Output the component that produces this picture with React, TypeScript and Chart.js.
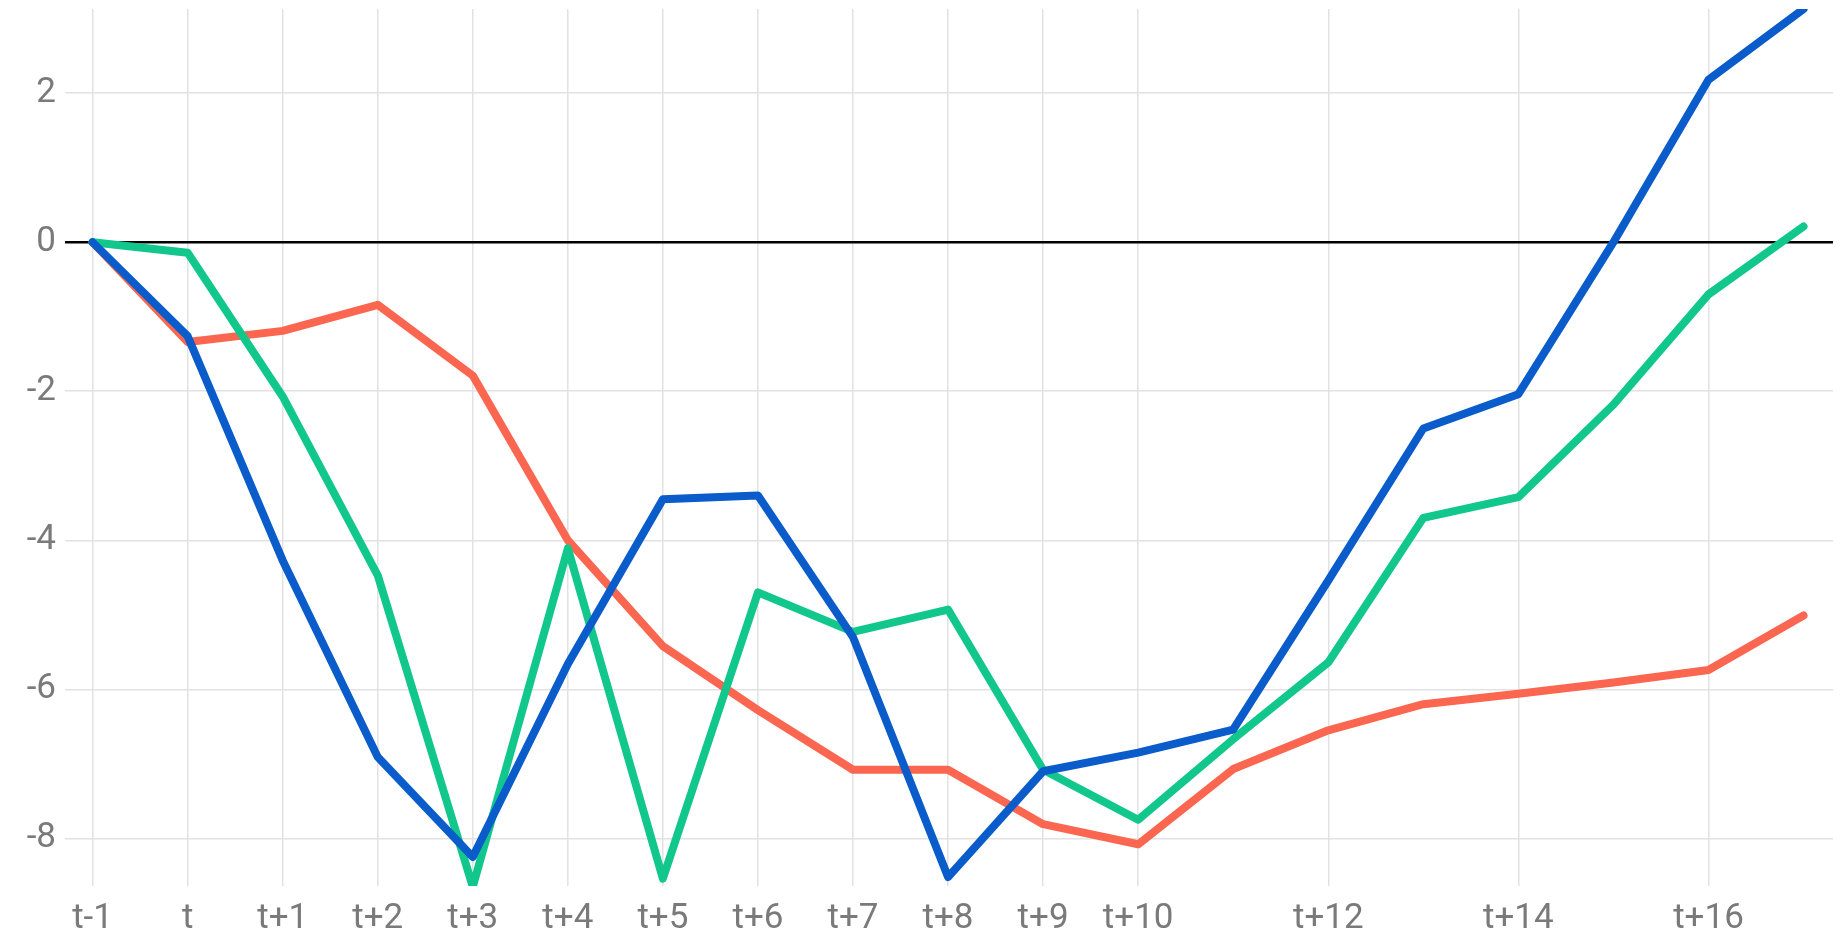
import React, { useEffect, useRef } from "react";
import { Chart, registerables } from "chart.js";

Chart.register(...registerables);

const categories = [
  "t-1", "t", "t+1", "t+2", "t+3", "t+4", "t+5", "t+6", "t+7", "t+8",
  "t+9", "t+10", "t+11", "t+12", "t+13", "t+14", "t+15", "t+16", "t+17",
];

// indices of categories that carry a visible tick label / vertical grid line
const shownTickIndices = [0, 1, 2, 3, 4, 5, 6, 7, 8, 9, 10, 11, 13, 15, 17];

const yTickValues = [-8, -6, -4, -2, 0, 2];

const blueSeries = [
  0, -1.26, -4.27, -6.91, -8.25, -5.66, -3.45, -3.40, -5.30, -8.52,
  -7.10, -6.85, -6.54, -4.54, -2.50, -2.04, 0.0, 2.18, 3.13,
];

const greenSeries = [
  0, -0.14, -2.07, -4.47, -8.65, -4.11, -8.54, -4.70, -5.23, -4.93,
  -7.08, -7.75, -6.67, -5.64, -3.70, -3.42, -2.18, -0.70, 0.21,
];

const redSeries = [
  0, -1.34, -1.19, -0.84, -1.79, -4.0, -5.42, -6.28, -7.08, -7.08,
  -7.81, -8.08, -7.07, -6.55, -6.20, -6.06, -5.91, -5.74, -5.01,
];

const toPoints = (vals: number[]) => vals.map((v, i) => ({ x: i - 1, y: v }));

export default function App() {
  const canvasRef = useRef<HTMLCanvasElement | null>(null);

  useEffect(() => {
    document.body.style.margin = "0";
    const canvas = canvasRef.current;
    if (!canvas) return;
    const tickFont = { family: "Roboto", size: 35 };
    const chart = new Chart(canvas, {
      type: "line",
      data: {
        datasets: [
          { label: "blue", data: toPoints(blueSeries), borderColor: "#0a5ccb" },
          { label: "green", data: toPoints(greenSeries), borderColor: "#12c78c" },
          { label: "red", data: toPoints(redSeries), borderColor: "#fb6650" },
        ].map((d) => ({
          ...d,
          borderWidth: 8,
          pointRadius: 0,
          pointHoverRadius: 0,
          tension: 0,
          fill: false,
          borderCapStyle: "round" as const,
          borderJoinStyle: "round" as const,
        })),
      },
      options: {
        animation: false,
        responsive: false,
        maintainAspectRatio: false,
        events: [],
        layout: { padding: { top: 9, right: 15, left: 0, bottom: 0 } },
        plugins: { legend: { display: false }, tooltip: { enabled: false } },
        scales: {
          x: {
            type: "linear",
            min: -1.29,
            max: 17.31,
            afterBuildTicks: (scale: any) => {
              scale.ticks = shownTickIndices.map((i) => ({ value: i - 1 }));
            },
            afterFit: (scale: any) => {
              scale.height = 54;
              scale.paddingLeft = 0;
              scale.paddingRight = 0;
            },
            ticks: {
              autoSkip: false,
              maxRotation: 0,
              padding: 12,
              color: "#7a7a7a",
              font: tickFont,
              callback: (v: any) => categories[Math.round(Number(v)) + 1] ?? "",
            },
            grid: { color: "#e2e2e2", lineWidth: 1.5, drawTicks: false },
            border: { display: false },
          },
          y: {
            type: "linear",
            min: -8.64,
            max: 3.13,
            afterBuildTicks: (scale: any) => {
              scale.ticks = yTickValues.map((v) => ({ value: v }));
            },
            afterFit: (scale: any) => {
              scale.width = 65;
              scale.paddingTop = 0;
              scale.paddingBottom = 0;
            },
            ticks: {
              padding: 9,
              color: "#7a7a7a",
              font: tickFont,
              callback: (v: any) => String(v),
            },
            grid: {
              drawTicks: false,
              color: (ctx: any) => (ctx.tick && ctx.tick.value === 0 ? "#000000" : "#e2e2e2"),
              lineWidth: (ctx: any) => (ctx.tick && ctx.tick.value === 0 ? 2.5 : 1.5),
            },
            border: { display: false },
          },
        },
      },
    });
    return () => chart.destroy();
  }, []);

  return (
    <div style={{ position: "fixed", left: 0, top: 0, width: 1848, height: 940, background: "#fff" }}>
      <canvas ref={canvasRef} width={1848} height={940} style={{ width: 1848, height: 940, display: "block" }} />
    </div>
  );
}
